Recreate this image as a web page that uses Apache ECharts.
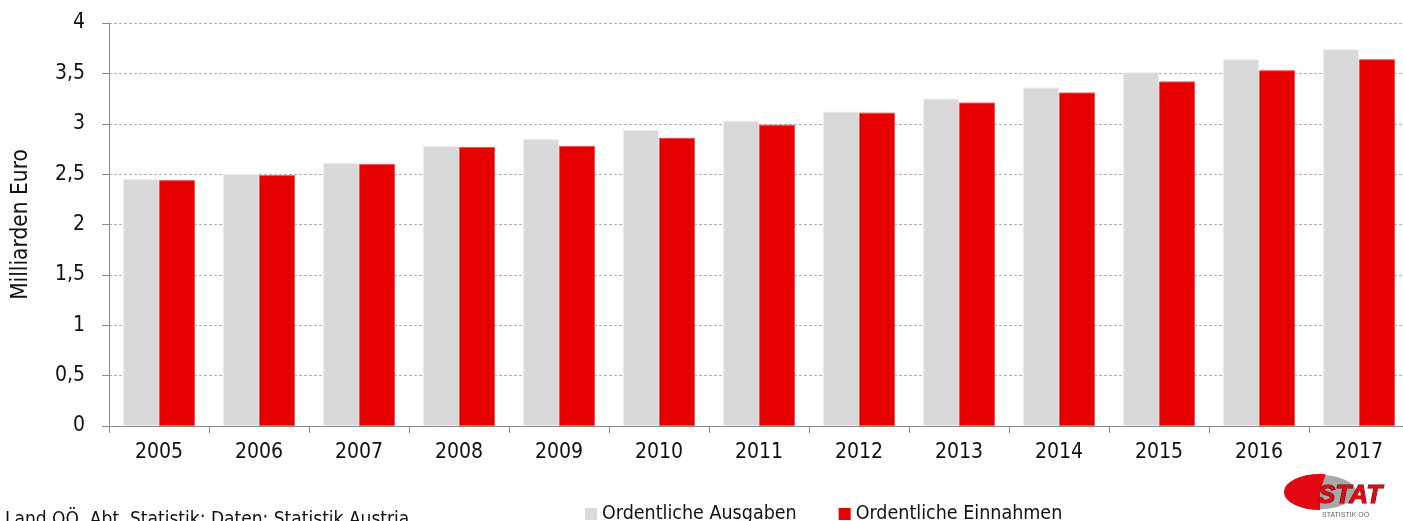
<!DOCTYPE html>
<html><head><meta charset="utf-8">
<script src="https://cdn.jsdelivr.net/npm/echarts@6/dist/echarts.min.js"></script>
<style>html,body{margin:0;padding:0;background:#fff}#c{width:1403px;height:521px}</style>
</head><body><div id="c"></div>
<script>
const categories = ['2005','2006','2007','2008','2009','2010','2011','2012','2013','2014','2015','2016','2017'];
const ausgaben = [2.45,2.50,2.61,2.78,2.85,2.94,3.03,3.12,3.25,3.36,3.51,3.64,3.74];
const einnahmen = [2.44,2.49,2.60,2.77,2.78,2.86,2.99,3.11,3.21,3.31,3.42,3.53,3.64];
const seriesNames = ['Ordentliche Ausgaben','Ordentliche Einnahmen'];
const yTicks = [0,0.5,1,1.5,2,2.5,3,3.5,4];
const FONT = "'DejaVu Sans Condensed','Liberation Sans Narrow',sans-serif";
const chart = echarts.init(document.getElementById('c'), null, {renderer:'canvas'});
chart.setOption({
  animation:false,
  grid:{left:109, top:23, bottom:95, right:-6, containLabel:false, outerBoundsMode:'none'},
  legend:{
    left:580, top:499, itemWidth:12, itemHeight:12, itemGap:42, icon:'rect',
    itemStyle:{borderWidth:0},
    textStyle:{fontFamily:FONT, fontSize:19.5, color:'#111', padding:[0,0,0,0]},
    data:seriesNames
  },
  xAxis:{
    type:'category', data:categories,
    axisLine:{lineStyle:{color:'#8c8c8c', width:1}},
    axisTick:{show:true, alignWithLabel:false, length:7, lineStyle:{color:'#8c8c8c'}},
    axisLabel:{fontFamily:FONT, fontSize:21, color:'#111', margin:16}
  },
  yAxis:{
    type:'value', min:yTicks[0], max:yTicks[yTicks.length-1], interval:0.5,
    name:'Milliarden Euro', nameLocation:'middle', nameGap:76, nameRotate:90,
    nameTextStyle:{fontFamily:FONT, fontSize:22.5, color:'#111'},
    axisLine:{show:true, lineStyle:{color:'#8c8c8c', width:1}},
    axisTick:{show:true, length:7, lineStyle:{color:'#8c8c8c'}},
    axisLabel:{fontFamily:FONT, fontSize:21, color:'#111', margin:24,
      formatter:v=>String(v).replace('.',',')},
    splitLine:{show:true, lineStyle:{color:'#b0b0b0', type:[3,2], width:1}}
  },
  series:[
    {name:seriesNames[0], type:'bar', data:ausgaben, barGap:'0%', barCategoryGap:'28%',
     itemStyle:{color:'#d9d9d9', borderColor:'#ececec', borderWidth:1}},
    {name:seriesNames[1], type:'bar', data:einnahmen, barGap:'0%', barCategoryGap:'28%',
     itemStyle:{color:'#e60000', borderColor:'#f05050', borderWidth:1}}
  ],
  graphic:[
    {type:'text', left:5, top:511, style:{text:'Land OÖ, Abt. Statistik; Daten: Statistik Austria', fontFamily:FONT, fontSize:19, fill:'#111'}},
    {type:'group', left:1284, top:474, children:[
      {type:'ellipse', shape:{cx:36, cy:18, rx:36, ry:17}, style:{fill:'#a8a8a8'}},
      {type:'sector', shape:{cx:36, cy:36, r:36, r0:0, startAngle:Math.PI*0.5, endAngle:Math.PI*1.55}, scaleY:0.5, style:{fill:'#e30613'}},
      {type:'text', x:34, y:9, style:{text:'STAT', fontFamily:"'Liberation Sans','Arial',sans-serif", fontWeight:'bold', fontStyle:'italic', fontSize:26, fill:'#e30613', stroke:'#5a0000', lineWidth:1}},
      {type:'text', x:38, y:38, style:{text:'STATISTIK OÖ', fontFamily:"'Liberation Sans',sans-serif", fontSize:7, fill:'#666'}}
    ]}
  ]
});
</script></body></html>
